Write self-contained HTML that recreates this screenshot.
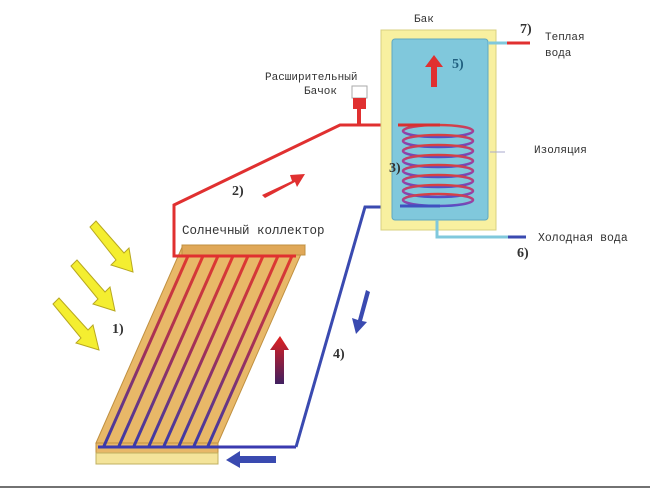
<!DOCTYPE html>
<html><head><meta charset="utf-8"><style>
body{margin:0;background:#fff;width:650px;height:490px;overflow:hidden}
text{font-family:"Liberation Mono","DejaVu Sans Mono",monospace;font-size:11px;fill:#333}
.n{font-family:"Liberation Serif",serif;font-size:14px;font-weight:bold;fill:#333}
</style></head><body>
<svg width="650" height="490" viewBox="0 0 650 490">
<defs>
<linearGradient id="tube" x1="0" y1="0" x2="0" y2="1">
<stop offset="0" stop-color="#e03a30"/><stop offset="0.5" stop-color="#a0305a"/><stop offset="1" stop-color="#3a3aa8"/></linearGradient>
<linearGradient id="coil" x1="0" y1="0" x2="0" y2="1">
<stop offset="0" stop-color="#d84040"/><stop offset="0.6" stop-color="#a040a0"/><stop offset="1" stop-color="#5050c8"/></linearGradient>
<linearGradient id="up" x1="0" y1="1" x2="0" y2="0">
<stop offset="0" stop-color="#402060"/><stop offset="1" stop-color="#e02020"/></linearGradient>
</defs>
<g fill="#f4ee30" stroke="#b8a820" stroke-width="1">
<polygon points="90,227 96,221 124,253 129,248 133,272 111,265 116,260"/>
<polygon points="71,266 77,260 105,292 110,287 115,311 93,304 98,299"/>
<polygon points="53,304 59,298 88,330 93,325 99,350 76,343 81,338"/>
</g>
<text class="n" x="112" y="333">1)</text>
<polygon points="96,443 183,245 305,245 218,443" fill="#e8b868" stroke="#c09040"/>
<rect x="96" y="443" width="122" height="10" fill="#e8b868" stroke="#c09040"/>
<rect x="96" y="453" width="122" height="11" fill="#f4e49a" stroke="#c0b060"/>
<rect x="182" y="245" width="123" height="10" fill="#e0a858" stroke="#c09040"/>
<g stroke="url(#tube)" stroke-width="3" fill="none">
<line x1="188" y1="256" x2="104" y2="446"/>
<line x1="203" y1="256" x2="119" y2="446"/>
<line x1="218" y1="256" x2="134" y2="446"/>
<line x1="233" y1="256" x2="149" y2="446"/>
<line x1="248" y1="256" x2="164" y2="446"/>
<line x1="263" y1="256" x2="179" y2="446"/>
<line x1="278" y1="256" x2="194" y2="446"/>
<line x1="292" y1="256" x2="208" y2="446"/>
</g>
<line x1="180" y1="256" x2="296" y2="256" stroke="#e03030" stroke-width="3"/>
<line x1="98" y1="447" x2="296" y2="447" stroke="#3a3ab0" stroke-width="3"/>
<polyline points="180,256 174,256 174,205 340,125 400,125" fill="none" stroke="#e03030" stroke-width="3"/>
<polyline points="296,447 365,207 410,207" fill="none" stroke="#3a4ab0" stroke-width="3"/>
<rect x="352" y="86" width="15" height="12" fill="#fff" stroke="#aaa"/>
<rect x="353" y="98" width="13" height="11" fill="#e03030"/>
<rect x="357" y="109" width="4" height="16" fill="#e03030"/>
<text x="265" y="80">Расширительный</text>
<text x="304" y="94">Бачок</text>
<rect x="381" y="30" width="115" height="200" fill="#f8f0a0" stroke="#d8d080"/>
<rect x="392" y="39" width="96" height="181" rx="3" fill="#80c8dc" stroke="#60a8c0"/>
<text x="414" y="22">Бак</text>
<g fill="none" stroke="url(#coil)" stroke-width="2.5">
<ellipse cx="438" cy="131" rx="35" ry="6"/>
<ellipse cx="438" cy="141" rx="35" ry="6"/>
<ellipse cx="438" cy="151" rx="35" ry="6"/>
<ellipse cx="438" cy="161" rx="35" ry="6"/>
<ellipse cx="438" cy="171" rx="35" ry="6"/>
<ellipse cx="438" cy="181" rx="35" ry="6"/>
<ellipse cx="438" cy="191" rx="35" ry="6"/>
<ellipse cx="438" cy="200" rx="35" ry="6"/>
</g>
<line x1="398" y1="125" x2="440" y2="125" stroke="#d83030" stroke-width="3"/>
<line x1="400" y1="206" x2="440" y2="206" stroke="#4050c0" stroke-width="3"/>
<text class="n" x="389" y="172" fill="#224">3)</text>
<polygon points="431,87 431,67 425,67 434,55 443,67 437,67 437,87" fill="#e03030"/>
<text class="n" x="452" y="68" style="fill:#206080">5)</text>
<line x1="488" y1="43" x2="507" y2="43" stroke="#80c8dc" stroke-width="3"/>
<line x1="507" y1="43" x2="530" y2="43" stroke="#e03030" stroke-width="3"/>
<polyline points="437,220 437,237 508,237" fill="none" stroke="#80c8dc" stroke-width="3"/>
<line x1="508" y1="237" x2="526" y2="237" stroke="#3a4ab0" stroke-width="3"/>
<text class="n" x="520" y="33">7)</text>
<text x="545" y="40">Теплая</text>
<text x="545" y="56">вода</text>
<text x="534" y="153">Изоляция</text>
<line x1="490" y1="152" x2="505" y2="152" stroke="#aac" stroke-width="1"/>
<text x="538" y="241" style="font-size:11.5px">Холодная вода</text>
<text class="n" x="517" y="257">6)</text>
<text x="182" y="234" style="font-size:12.5px">Солнечный коллектор</text>
<polygon points="262,195 292,181 290,175 305,174 297,187 295,182 265,198" fill="#e03030"/>
<text class="n" x="232" y="195">2)</text>
<polygon points="275,384 275,350 270,350 280,336 289,350 284,350 284,384" fill="url(#up)"/>
<polygon points="366,290 358,320 352,318 356,334 367,322 362,321 370,292" fill="#3a4ab0"/>
<text class="n" x="333" y="358">4)</text>
<polygon points="276,456 240,456 240,451 226,460 240,468 240,463 276,463" fill="#3a4ab0"/>
<line x1="0" y1="487" x2="650" y2="487" stroke="#444" stroke-width="1.5"/>
</svg>
</body></html>
